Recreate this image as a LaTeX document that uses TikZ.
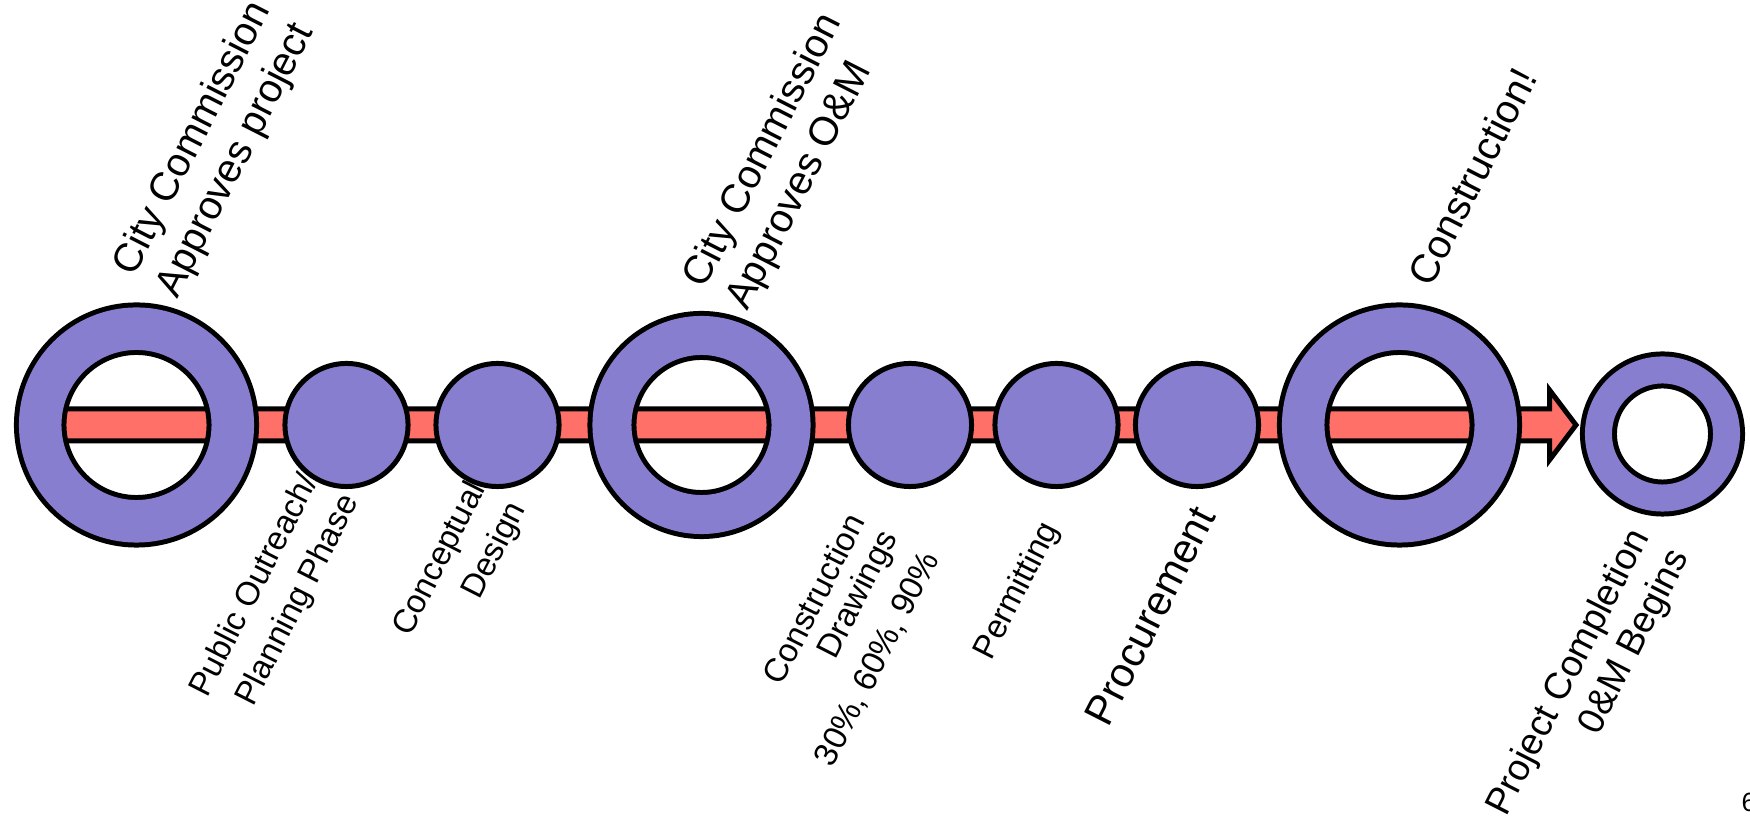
\documentclass[tikz,border=0pt]{standalone}
\usepackage{fontspec}
\setmainfont{Liberation Sans}
\usetikzlibrary{backgrounds,calc}

\definecolor{ringpurple}{RGB}{136,126,207}
\definecolor{barred}{RGB}{255,112,105}

\tikzset{
  phase/.style={circle, draw, line width=1.42pt, fill=ringpurple, inner sep=0pt, minimum size=1.23cm},
  gate/.style={circle, draw, line width=1.42pt, double=ringpurple, inner sep=0pt},
  toplabel/.style={rotate=63, anchor=base west, inner sep=0pt, font=\fontsize{11.4}{13.7}\selectfont},
  lowlabel/.style={rotate=63, anchor=base east, inner sep=0pt, font=\fontsize{9.4}{12.8}\selectfont}
}

\begin{document}
\begin{tikzpicture}[x=0.01cm, y=-0.01cm]
\useasboundingbox (0,0) rectangle (1750,819);

% 圆环与圆点
\node[gate, minimum size=1.925cm, double distance=0.425cm] (ring1) at (136.5,425) {};
\node[phase] (outreach) at (346.5,425) {};
\node[phase] (concept) at (497.5,425) {};
\node[gate, minimum size=1.79cm, double distance=0.39cm] (ring2) at (701.5,425) {};
\node[phase] (drawings) at (910,425) {};
\node[phase] (permit) at (1056.5,425) {};
\node[phase] (procure) at (1197,425) {};
\node[gate, minimum size=1.925cm, double distance=0.425cm] (ring3) at (1399.5,425) {};
\node[gate, minimum size=1.28cm, double distance=0.27cm] (ring4) at (1662.5,434) {};
\coordinate (tip) at (1576,425);

% 绘制箭头
\begin{scope}[on background layer]
\filldraw[fill=barred, draw=black, line width=1.42pt]
  ($(ring1.west)+(0,-16)$) -- ($(tip)+(-26.5,-16)$) -- ($(tip)+(-26.5,-35)$) -- (tip)
  -- ($(tip)+(-26.5,35)$) -- ($(tip)+(-26.5,16)$) -- ($(ring1.west)+(0,16)$) -- cycle;
\end{scope}

\node[toplabel] (approve) at (177,300) {\begin{tabular}[b]{@{}l@{}}City Commission\\Approves project\end{tabular}};
\node[toplabel] (approveom) at (747.5,312.5) {\begin{tabular}[b]{@{}l@{}}City Commission\\Approves O\&M\end{tabular}};
\node[toplabel] (build) at (1430.7,289) {Construction!};

\node[lowlabel] (outreachlbl) at (318.8,480.4) {\begin{tabular}[t]{@{}r@{}}Public Outreach/\\Planning Phase\end{tabular}};
\node[lowlabel] (conceptlbl) at (486.3,488.1) {\begin{tabular}[t]{@{}r@{}}Conceptual\\Design\end{tabular}};
\node[lowlabel, font=\fontsize{9.4}{10.2}\selectfont] (drawingslbl) at (866.5,520.8) {\begin{tabular}[t]{@{}r@{}}Construction\\Drawings\\[3pt]30\%, 60\%, 90\%\end{tabular}};
\node[lowlabel] (permitlbl) at (1059.4,528.2) {Permitting};
\node[lowlabel, font=\fontsize{11.8}{13.5}\selectfont] (procurelbl) at (1216.9,515.8) {Procurement};
\node[lowlabel, font=\fontsize{10.6}{12.7}\selectfont] (donelbl) at (1649.8,536.3) {\begin{tabular}[t]{@{}r@{}}Project Completion\\0\&M Begins\end{tabular}};

\node[anchor=base west, inner sep=0pt, font=\fontsize{7.5}{9}\selectfont] (page) at (1741,812) {6};
\end{tikzpicture}
\end{document}
